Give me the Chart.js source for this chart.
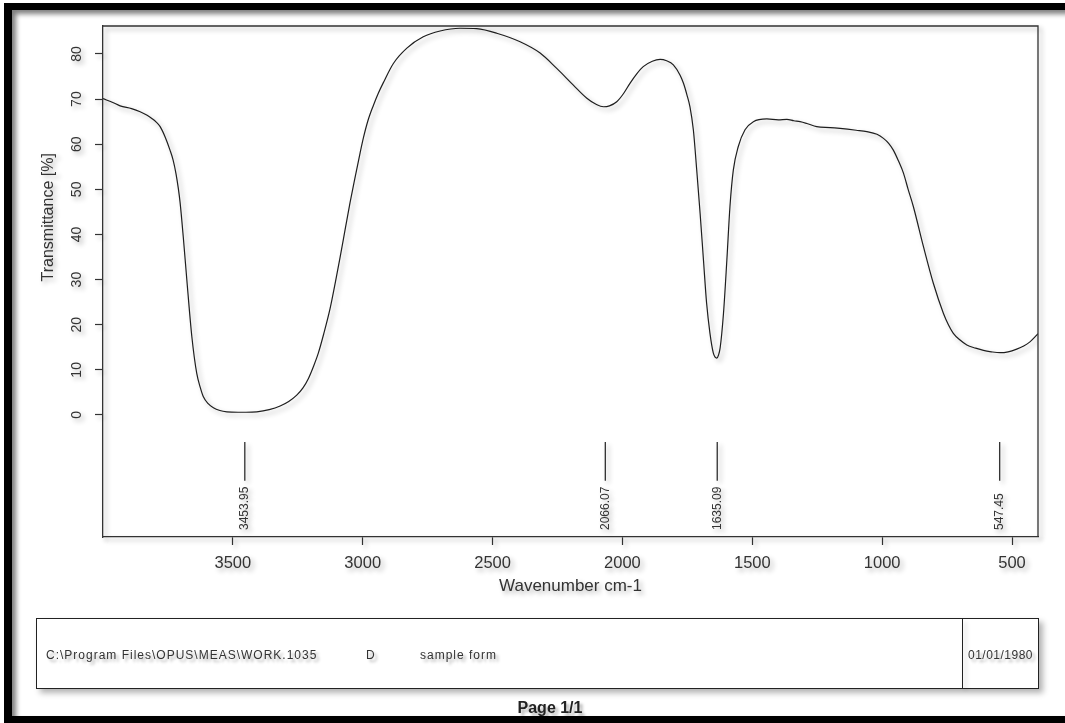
<!DOCTYPE html>
<html>
<head>
<meta charset="utf-8">
<script src="https://cdn.jsdelivr.net/npm/chart.js@4.4.1/dist/chart.umd.min.js"></script>
<style>
html,body{margin:0;padding:0;background:#fff;overflow:hidden;width:1065px;height:723px;}
#wrap{position:relative;width:1065px;height:723px;overflow:hidden;}
canvas{position:absolute;left:0;top:0;}
.frame{position:absolute;left:4px;top:3px;width:1080px;height:720px;box-sizing:border-box;border-top:7px solid #000;border-left:8px solid #000;border-bottom:7px solid #000;box-shadow:inset 4px 4px 5px rgba(0,0,0,0.5);pointer-events:none;}
.footer{position:absolute;left:36px;top:618px;width:1003px;height:71px;box-sizing:border-box;border:1px solid #222;box-shadow:4px 4px 6px rgba(0,0,0,0.3);}
.divider{position:absolute;left:925px;top:0;width:1px;height:100%;background:#222;box-shadow:3px 3px 4px rgba(0,0,0,0.25);}
.ft{position:absolute;font-family:"Liberation Sans",Arial,sans-serif;font-size:12px;line-height:16px;color:#333;letter-spacing:1px;white-space:nowrap;text-shadow:3px 3px 3px rgba(0,0,0,0.3);}
.page{position:absolute;left:0;width:1100px;text-align:center;top:699px;font-family:"Liberation Sans",Arial,sans-serif;font-weight:bold;font-size:16px;line-height:18px;color:#222;white-space:nowrap;text-shadow:3px 3px 3px rgba(0,0,0,0.3);}
</style>
</head>
<body>
<div id="wrap">
<canvas id="c" width="1065" height="723"></canvas>
<div class="frame"></div>
<div class="footer"><div class="divider"></div></div>
<div class="ft" id="fpath" style="left:46px;top:647px;"></div>
<div class="ft" id="fd" style="left:366px;top:647px;"></div>
<div class="ft" id="fs" style="left:420px;top:647px;"></div>
<div class="ft" id="fdate" style="left:962px;width:77px;text-align:center;top:647px;letter-spacing:0.5px;"></div>
<div class="page" id="page"></div>
</div>
<script>
// ---- data ----
const wavenumbers = [4000,3960,3934,3890,3857,3830,3812,3795,3780,3760,3742,3730,3719,3710,3703,3691,3675,3658,3639,3625,3614,3595,3575,3550,3523,3480,3450,3408,3360,3318,3285,3254,3230,3209,3190,3171,3150,3126,3105,3087,3068,3049,3030,3010,2997,2980,2959,2940,2921,2882,2830,2767,2702,2625,2561,2484,2394,2317,2253,2189,2137,2100,2073,2050,2022,1995,1971,1945,1920,1885,1855,1830,1804,1778,1765,1752,1740,1727,1714,1701,1688,1676,1663,1650,1643,1637,1630,1624,1611,1598,1586,1573,1554,1528,1496,1444,1400,1367,1340,1316,1290,1252,1200,1162,1100,1059,1020,995,975,957,938,918,900,880,841,803,764,745,726,700,674,640,610,580,546,515,482,455,431,405,400];
const transmittance = [70.1,69.2,68.5,67.9,67.2,66.4,65.7,64.9,63.9,61.5,58.7,56.5,53.5,50.2,47.0,39.5,28.4,17.4,9.2,6.0,4.1,2.5,1.6,1.0,0.7,0.6,0.6,0.7,1.2,2.0,3.0,4.4,6.0,8.1,10.7,13.7,18.0,23.5,29.5,35.0,41.0,47.0,52.5,58.1,61.5,65.2,68.6,71.3,73.6,77.9,81.3,83.8,85.1,85.7,85.6,84.6,82.7,80.2,76.8,73.1,70.2,68.8,68.3,68.5,69.4,71.3,73.5,75.6,77.2,78.4,78.8,78.5,77.6,75.3,73.5,71.0,68.3,63.2,54.3,44.7,34.3,24.8,18.1,13.7,12.8,12.6,13.3,14.8,22.5,34.3,46.2,54.3,59.5,63.2,65.0,65.6,65.4,65.5,65.2,65.0,64.6,63.9,63.7,63.5,63.1,62.8,62.2,61.3,60.2,58.7,56.4,53.6,50.0,46.2,37.3,29.2,22.5,20.0,18.1,16.6,15.5,14.8,14.3,14.0,13.8,14.0,14.6,15.3,16.2,17.7,18.0];
const peakPositions = [3453.95, 2066.07, 1635.09, 547.45];
const peakLabels = ['3453.95', '2066.07', '1635.09', '547.45'];
const xTickValues = [3500, 3000, 2500, 2000, 1500, 1000, 500];
const yTickValues = [0, 10, 20, 30, 40, 50, 60, 70, 80];
const xAxisTitle = 'Wavenumber cm-1';
const yAxisTitle = 'Transmittance [%]';
const footerPath = 'C:\\Program Files\\OPUS\\MEAS\\WORK.1035';
const footerFlag = 'D';
const footerSample = 'sample form';
const footerDate = '01/01/1980';
const pageText = 'Page 1/1';

document.getElementById('fpath').textContent = footerPath;
document.getElementById('fd').textContent = footerFlag;
document.getElementById('fs').textContent = footerSample;
document.getElementById('fdate').textContent = footerDate;
document.getElementById('page').textContent = pageText;

const FONT = '"Liberation Sans", Arial, sans-serif';
Chart.defaults.font.family = FONT;

const spectrum = wavenumbers.map((w, i) => ({x: w, y: transmittance[i]}));
const peakSegments = [];
peakPositions.forEach(p => {
  peakSegments.push({x: p, y: -6}, {x: p, y: -14.6}, {x: p, y: null});
});

const shadowPlugin = {
  id: 'shadow',
  beforeDraw(chart) {
    const c = chart.ctx;
    c.shadowColor = 'rgba(0,0,0,0.32)';
    c.shadowBlur = 5;
    c.shadowOffsetX = 3;
    c.shadowOffsetY = 3;
  },
  afterDraw(chart) {
    const c = chart.ctx;
    c.shadowColor = 'rgba(0,0,0,0)';
    c.shadowBlur = 0; c.shadowOffsetX = 0; c.shadowOffsetY = 0;
  }
};

const boxPlugin = {
  id: 'box',
  afterDatasetsDraw(chart) {
    const {ctx, chartArea: a} = chart;
    ctx.save();
    ctx.strokeStyle = '#333';
    ctx.lineWidth = 1.3;
    ctx.beginPath();
    ctx.moveTo(a.left, a.top);
    ctx.lineTo(a.right, a.top);
    ctx.lineTo(a.right, a.bottom);
    ctx.stroke();
    ctx.restore();
  }
};

const peakLabelPlugin = {
  id: 'peakLabels',
  afterDatasetsDraw(chart) {
    const {ctx, chartArea, scales: {x}} = chart;
    ctx.save();
    ctx.font = '12px ' + FONT;
    ctx.fillStyle = '#333';
    ctx.textAlign = 'left';
    ctx.textBaseline = 'middle';
    peakPositions.forEach((p, i) => {
      const px = x.getPixelForValue(p);
      ctx.save();
      ctx.translate(px, chartArea.bottom - 7);
      ctx.rotate(-Math.PI / 2);
      ctx.fillText(peakLabels[i], 0, 0);
      ctx.restore();
    });
    ctx.restore();
  }
};

const yTitlePlugin = {
  id: 'yTitle',
  afterDraw(chart) {
    const {ctx, scales: {y}} = chart;
    ctx.save();
    ctx.shadowColor = 'rgba(0,0,0,0.32)';
    ctx.shadowBlur = 5; ctx.shadowOffsetX = 3; ctx.shadowOffsetY = 3;
    ctx.font = '16px ' + FONT;
    ctx.fillStyle = '#333';
    ctx.textAlign = 'center';
    ctx.textBaseline = 'middle';
    ctx.translate(y.left + 49, y.getPixelForValue(43.8));
    ctx.rotate(-Math.PI / 2);
    ctx.fillText(yAxisTitle, 0, 0);
    ctx.restore();
  }
};

new Chart(document.getElementById('c'), {
  type: 'line',
  data: {
    datasets: [
      {data: spectrum, borderColor: '#1e1e1e', borderWidth: 1.2, pointRadius: 0, cubicInterpolationMode: 'monotone', fill: false},
      {data: peakSegments, borderColor: '#1e1e1e', borderWidth: 1.2, pointRadius: 0, tension: 0, spanGaps: false, fill: false}
    ]
  },
  options: {
    responsive: false,
    animation: false,
    devicePixelRatio: 1,
    layout: {padding: {left: 0, top: 26, right: 27, bottom: 126}},
    plugins: {legend: {display: false}, tooltip: {enabled: false}},
    scales: {
      x: {
        type: 'linear', reverse: true, min: 400, max: 4000,
        afterBuildTicks: s => { s.ticks = xTickValues.map(v => ({value: v})); },
        afterFit: s => { s.height = 60; },
        grid: {drawOnChartArea: false, drawTicks: true, tickLength: 8, color: '#333', tickWidth: 1.2},
        border: {display: true, color: '#333', width: 1.3},
        ticks: {color: '#333', font: {size: 16.5}, padding: 9, maxRotation: 0, minRotation: 0, autoSkip: false, callback: v => String(v)},
        title: {display: true, text: xAxisTitle, color: '#333', font: {size: 17}, padding: {top: 0, bottom: 0}}
      },
      y: {
        type: 'linear', min: -27.04, max: 86.2,
        afterBuildTicks: s => { s.ticks = yTickValues.map(v => ({value: v})); },
        afterFit: s => { s.width = 103; },
        grid: {drawOnChartArea: false, drawTicks: true, tickLength: 8, color: '#333', tickWidth: 1.2},
        border: {display: true, color: '#333', width: 1.3},
        ticks: {color: '#333', font: {size: 14}, padding: 10, minRotation: 90, maxRotation: 90, crossAlign: 'center', autoSkip: false, callback: v => String(v)},
        title: {display: false}
      }
    }
  },
  plugins: [shadowPlugin, boxPlugin, peakLabelPlugin, yTitlePlugin]
});
</script>
</body>
</html>
